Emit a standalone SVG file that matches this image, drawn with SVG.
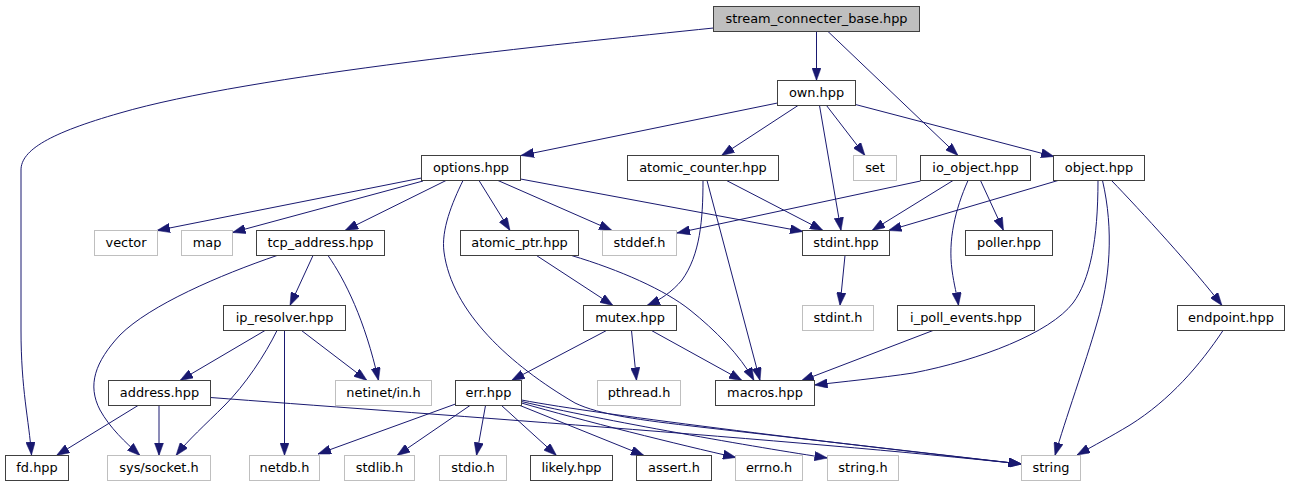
<svg xmlns="http://www.w3.org/2000/svg" width="1290" height="485" viewBox="0 0 1290 485">
<style>
.n rect{fill:#ffffff;stroke:#404040;stroke-width:1}
.x rect{fill:#ffffff;stroke:#bfbfbf;stroke-width:1}
.root rect{fill:#bfbfbf;stroke:#404040;stroke-width:1}
text{font-family:"DejaVu Sans","Liberation Sans",sans-serif;font-size:12.9px;fill:#000000;text-anchor:middle}
#edges path{fill:none;stroke:#191970;stroke-width:1;marker-end:url(#arr)}
</style>
<defs>
<marker id="arr" markerUnits="userSpaceOnUse" viewBox="0 0 13 9.4" markerWidth="13" markerHeight="9.4" refX="13" refY="4.7" orient="auto">
<path d="M0,0 L13,4.7 L0,9.4 z" fill="#191970" stroke="#191970" stroke-width="0.5"/>
</marker>
</defs>
<rect width="1290" height="485" fill="#ffffff"/>
<g id="edges">
<path d="M713.5,28 C560,44 250,75 120,113 C50,133 21,150 21,170 L21,330 C21,390 29,420 31.5,455"/>
<path d="M816.5,31.5 L816.5,80.5"/>
<path d="M828,31.5 L958,155.5"/>
<path d="M777.5,103 L521,155.5"/>
<path d="M798,105.5 L721.5,155.5"/>
<path d="M819.5,105.5 L841,230.5"/>
<path d="M826.5,105.5 L865,155.5"/>
<path d="M855.5,104.5 L1054,156.5"/>
<path d="M421.5,178 L157,230.5"/>
<path d="M423,181 L232.5,232.5"/>
<path d="M446,180.5 L345,230.5"/>
<path d="M463,180.5 C452,203 441,230 444,252 C452,312 510,365 575,403 C600,415 640,420 700,427 L1021.5,464"/>
<path d="M479,180.5 L510,230.5"/>
<path d="M498,180.5 L612,230.5"/>
<path d="M520.5,179 L803,231.5"/>
<path d="M726.5,180.5 L823,230.5"/>
<path d="M703,180.5 C703,220 700,255 682,280 C672,292 660,300 647,305.5"/>
<path d="M707,180.5 L760,380.5"/>
<path d="M920.5,181 L677,233"/>
<path d="M953,180.5 L872,230.5"/>
<path d="M980.5,180.5 L1003.5,230.5"/>
<path d="M968,180.5 C955,210 948,240 952,270 C954,285 957,295 958.5,305.5"/>
<path d="M1058,180.5 L888.5,230.5"/>
<path d="M1098,180.5 C1098,240 1090,280 1073,303 C1050,333 980,360 913,373 C880,378 840,382 814.5,385"/>
<path d="M1102.5,180.5 C1114,230 1110,280 1097,323 C1085,365 1065,420 1055,455.5"/>
<path d="M1111.5,180.5 C1140,210 1195,270 1222,305.5"/>
<path d="M1223,330.5 C1200,365 1170,400 1130,425 C1110,437 1095,445 1077,455"/>
<path d="M313,255.5 L290,305.5"/>
<path d="M277,255.5 C220,275 150,305 120,335 C95,362 87,385 100,410 C110,428 125,442 140,455.5"/>
<path d="M328,255.5 C345,280 365,320 378.5,380.5"/>
<path d="M265,330.5 L180,380.5"/>
<path d="M277,330.5 C265,355 245,385 225,405 C205,425 188,440 176,455.5"/>
<path d="M284.5,330.5 L284.5,455.5"/>
<path d="M301.5,330.5 L367,380.5"/>
<path d="M138,405.5 L56.5,455.5"/>
<path d="M159,405.5 L159,455.5"/>
<path d="M210.5,397.5 C400,412 800,440 1021.5,464"/>
<path d="M455.5,404 L318,454"/>
<path d="M470,405.5 L397,455.5"/>
<path d="M485.5,405.5 L476.5,455.5"/>
<path d="M501.5,405.5 L556.5,455.5"/>
<path d="M520,405.5 L644,455.5"/>
<path d="M521.5,403 C580,420 680,445 736,457.5"/>
<path d="M521.5,401.5 C600,420 760,448 827.5,458"/>
<path d="M521.5,400 C600,415 850,445 1021.5,464"/>
<path d="M606.5,330.5 L511.5,380.5"/>
<path d="M631.5,330.5 L636.5,380.5"/>
<path d="M651.5,330.5 L742,380.5"/>
<path d="M536.5,255.5 L613,305.5"/>
<path d="M571.5,255.5 C620,270 665,290 690,310 C715,330 740,355 754,380.5"/>
<path d="M845,255.5 L840,305.5"/>
<path d="M933,330.5 L801,381"/>
</g>
<g id="stream_connecter_base" class="root"><rect x="713.5" y="6.5" width="206" height="25"/><text x="816.5" y="23">stream_connecter_base.hpp</text></g>
<g id="own" class="n"><rect x="777.5" y="80.5" width="78" height="25"/><text x="816.5" y="97">own.hpp</text></g>
<g id="options" class="n"><rect x="421.5" y="155.5" width="99" height="25"/><text x="471" y="172">options.hpp</text></g>
<g id="atomic_counter" class="n"><rect x="627.5" y="155.5" width="151" height="25"/><text x="703" y="172">atomic_counter.hpp</text></g>
<g id="set" class="x"><rect x="853.5" y="155.5" width="43" height="25"/><text x="875" y="172">set</text></g>
<g id="io_object" class="n"><rect x="920.5" y="155.5" width="110" height="25"/><text x="975.5" y="172">io_object.hpp</text></g>
<g id="object" class="n"><rect x="1053.5" y="155.5" width="91" height="25"/><text x="1099" y="172">object.hpp</text></g>
<g id="vector" class="x"><rect x="94.5" y="230.5" width="63" height="25"/><text x="126" y="247">vector</text></g>
<g id="map" class="x"><rect x="181.5" y="230.5" width="51" height="25"/><text x="207" y="247">map</text></g>
<g id="tcp_address" class="n"><rect x="256.5" y="230.5" width="128" height="25"/><text x="320.5" y="247">tcp_address.hpp</text></g>
<g id="atomic_ptr" class="n"><rect x="460.5" y="230.5" width="118" height="25"/><text x="519.5" y="247">atomic_ptr.hpp</text></g>
<g id="stddef" class="x"><rect x="602.5" y="230.5" width="74" height="25"/><text x="639.5" y="247">stddef.h</text></g>
<g id="stdint_hpp" class="n"><rect x="802.5" y="230.5" width="87" height="25"/><text x="846" y="247">stdint.hpp</text></g>
<g id="poller" class="n"><rect x="965.5" y="230.5" width="87" height="25"/><text x="1009" y="247">poller.hpp</text></g>
<g id="ip_resolver" class="n"><rect x="223.5" y="305.5" width="122" height="25"/><text x="284.5" y="322">ip_resolver.hpp</text></g>
<g id="mutex" class="n"><rect x="583.5" y="305.5" width="93" height="25"/><text x="630" y="322">mutex.hpp</text></g>
<g id="stdint_h" class="x"><rect x="802.5" y="305.5" width="71" height="25"/><text x="838" y="322">stdint.h</text></g>
<g id="i_poll_events" class="n"><rect x="897.5" y="305.5" width="137" height="25"/><text x="966" y="322">i_poll_events.hpp</text></g>
<g id="endpoint" class="n"><rect x="1177.5" y="305.5" width="107" height="25"/><text x="1231" y="322">endpoint.hpp</text></g>
<g id="address" class="n"><rect x="108.5" y="380.5" width="102" height="25"/><text x="159.5" y="397">address.hpp</text></g>
<g id="netinet_in" class="x"><rect x="335.5" y="380.5" width="96" height="25"/><text x="383.5" y="397">netinet/in.h</text></g>
<g id="err" class="n"><rect x="455.5" y="380.5" width="66" height="25"/><text x="488.5" y="397">err.hpp</text></g>
<g id="pthread" class="x"><rect x="597.5" y="380.5" width="83" height="25"/><text x="639" y="397">pthread.h</text></g>
<g id="macros" class="n"><rect x="715.5" y="380.5" width="99" height="25"/><text x="765" y="397">macros.hpp</text></g>
<g id="fd" class="n"><rect x="5.5" y="455.5" width="63" height="25"/><text x="37" y="472">fd.hpp</text></g>
<g id="sys_socket" class="x"><rect x="107.5" y="455.5" width="103" height="25"/><text x="159" y="472">sys/socket.h</text></g>
<g id="netdb" class="x"><rect x="249.5" y="455.5" width="70" height="25"/><text x="284.5" y="472">netdb.h</text></g>
<g id="stdlib" class="x"><rect x="344.5" y="455.5" width="70" height="25"/><text x="379.5" y="472">stdlib.h</text></g>
<g id="stdio" class="x"><rect x="439.5" y="455.5" width="67" height="25"/><text x="473" y="472">stdio.h</text></g>
<g id="likely" class="n"><rect x="530.5" y="455.5" width="82" height="25"/><text x="571.5" y="472">likely.hpp</text></g>
<g id="assert" class="n"><rect x="636.5" y="455.5" width="75" height="25"/><text x="674" y="472">assert.h</text></g>
<g id="errno" class="x"><rect x="735.5" y="455.5" width="67" height="25"/><text x="769" y="472">errno.h</text></g>
<g id="string_h" class="x"><rect x="827.5" y="455.5" width="71" height="25"/><text x="863" y="472">string.h</text></g>
<g id="string" class="x"><rect x="1021.5" y="455.5" width="59" height="25"/><text x="1051" y="472">string</text></g>
</svg>
